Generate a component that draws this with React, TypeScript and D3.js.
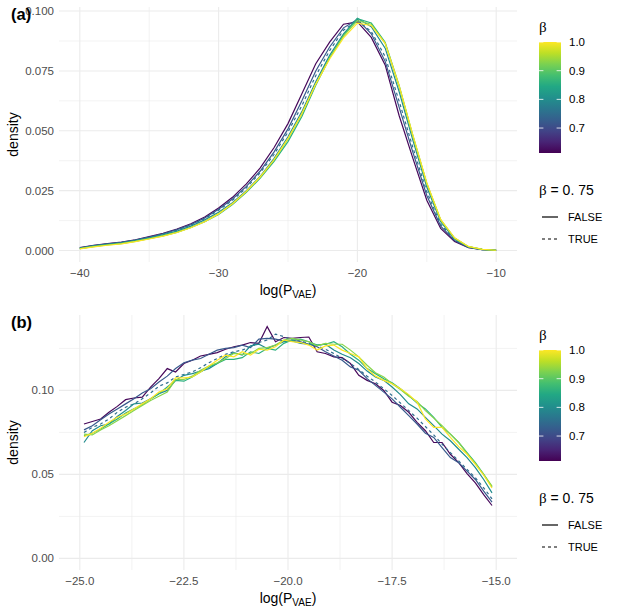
import * as d3 from 'd3';

// beta value of every curve, in drawing order; the 0.75 run is the dashed one
const betas = [0.62, 0.72, 0.75, 0.8, 0.86, 0.93, 1.0];
const dashed = [false, false, true, false, false, false, false];

// panel (a): whole range, bins of width 1
const xA = [-40, -39, -38, -37, -36, -35, -34, -33, -32, -31, -30, -29, -28, -27, -26, -25,
  -24, -23, -22, -21, -20, -19, -18, -17, -16, -15, -14, -13, -12, -11, -10];
const a062 = [0.0012, 0.0022, 0.0029, 0.0035, 0.0045, 0.0058, 0.0072, 0.0090, 0.0112, 0.0140, 0.0178, 0.0222, 0.0278, 0.0345, 0.0430, 0.0530,
  0.0655, 0.0780, 0.0870, 0.0945, 0.0955, 0.0890, 0.0775, 0.0565, 0.0385, 0.0210, 0.0092, 0.0038, 0.0012, 0.0004, 0.0001];
const a072 = [0.0011, 0.0021, 0.0028, 0.0034, 0.0044, 0.0056, 0.0070, 0.0087, 0.0108, 0.0136, 0.0172, 0.0215, 0.0268, 0.0332, 0.0412, 0.0508,
  0.0625, 0.0750, 0.0850, 0.0930, 0.0965, 0.0905, 0.0790, 0.0600, 0.0410, 0.0230, 0.0102, 0.0042, 0.0013, 0.0004, 0.0001];
const a075 = [0.0010, 0.0020, 0.0027, 0.0033, 0.0043, 0.0055, 0.0069, 0.0085, 0.0106, 0.0133, 0.0168, 0.0210, 0.0262, 0.0325, 0.0402, 0.0495,
  0.0605, 0.0730, 0.0835, 0.0920, 0.0960, 0.0915, 0.0810, 0.0625, 0.0430, 0.0245, 0.0110, 0.0045, 0.0014, 0.0004, 0.0001];
const a080 = [0.0009, 0.0019, 0.0026, 0.0032, 0.0041, 0.0053, 0.0066, 0.0081, 0.0102, 0.0128, 0.0160, 0.0200, 0.0250, 0.0310, 0.0385, 0.0475,
  0.0580, 0.0705, 0.0815, 0.0905, 0.0970, 0.0935, 0.0845, 0.0665, 0.0460, 0.0265, 0.0120, 0.0048, 0.0015, 0.0004, 0.0001];
const a086 = [0.0008, 0.0017, 0.0024, 0.0030, 0.0039, 0.0050, 0.0062, 0.0077, 0.0096, 0.0120, 0.0150, 0.0192, 0.0243, 0.0302, 0.0372, 0.0455,
  0.0560, 0.0690, 0.0805, 0.0900, 0.0968, 0.0950, 0.0870, 0.0690, 0.0480, 0.0280, 0.0128, 0.0052, 0.0016, 0.0005, 0.0001];
const a093 = [0.0008, 0.0016, 0.0023, 0.0029, 0.0038, 0.0049, 0.0061, 0.0076, 0.0096, 0.0121, 0.0154, 0.0195, 0.0246, 0.0306, 0.0378, 0.0465,
  0.0570, 0.0695, 0.0805, 0.0895, 0.0960, 0.0945, 0.0865, 0.0685, 0.0475, 0.0278, 0.0127, 0.0051, 0.0016, 0.0005, 0.0001];
const a100 = [0.0007, 0.0015, 0.0022, 0.0028, 0.0037, 0.0048, 0.0060, 0.0075, 0.0095, 0.0120, 0.0153, 0.0195, 0.0247, 0.0308, 0.0380, 0.0468,
  0.0572, 0.0695, 0.0800, 0.0888, 0.0950, 0.0940, 0.0865, 0.0690, 0.0482, 0.0283, 0.0130, 0.0053, 0.0017, 0.0005, 0.0001];

// panel (b): zoom on the bulk, bins of width 0.2
const xB = [-24.9, -24.7, -24.5, -24.3, -24.1, -23.9, -23.7, -23.5, -23.3, -23.1,
  -22.9, -22.7, -22.5, -22.3, -22.1, -21.9, -21.7, -21.5, -21.3, -21.1,
  -20.9, -20.7, -20.5, -20.3, -20.1, -19.9, -19.7, -19.5, -19.3, -19.1,
  -18.9, -18.7, -18.5, -18.3, -18.1, -17.9, -17.7, -17.5, -17.3, -17.1,
  -16.9, -16.7, -16.5, -16.3, -16.1, -15.9, -15.7, -15.5, -15.3, -15.1];
const b062 = [0.0800, 0.0815, 0.0830, 0.0870, 0.0905, 0.0945, 0.0955, 0.0960, 0.1020, 0.1070,
  0.1130, 0.1110, 0.1160, 0.1180, 0.1205, 0.1215, 0.1225, 0.1245, 0.1260, 0.1270,
  0.1285, 0.1280, 0.1380, 0.1290, 0.1315, 0.1310, 0.1315, 0.1318, 0.1230, 0.1220,
  0.1200, 0.1195, 0.1160, 0.1090, 0.1060, 0.1040, 0.1000, 0.0930, 0.0910, 0.0870,
  0.0810, 0.0760, 0.0690, 0.0690, 0.0620, 0.0570, 0.0505, 0.0450, 0.0380, 0.0315];
const b072 = [0.0765, 0.0790, 0.0825, 0.0860, 0.0890, 0.0920, 0.0950, 0.0985, 0.1010, 0.1050,
  0.1085, 0.1130, 0.1165, 0.1180, 0.1190, 0.1215, 0.1240, 0.1250, 0.1255, 0.1270,
  0.1255, 0.1305, 0.1310, 0.1305, 0.1295, 0.1300, 0.1290, 0.1275, 0.1260, 0.1230,
  0.1205, 0.1180, 0.1140, 0.1120, 0.1070, 0.1030, 0.0990, 0.0950, 0.0900, 0.0850,
  0.0800, 0.0745, 0.0720, 0.0660, 0.0600, 0.0570, 0.0520, 0.0470, 0.0400, 0.0335];
const b075 = [0.0750, 0.0780, 0.0800, 0.0830, 0.0870, 0.0900, 0.0920, 0.0950, 0.0985, 0.1025,
  0.1045, 0.1080, 0.1095, 0.1110, 0.1135, 0.1165, 0.1190, 0.1215, 0.1230, 0.1240,
  0.1260, 0.1285, 0.1300, 0.1335, 0.1320, 0.1300, 0.1295, 0.1280, 0.1265, 0.1245,
  0.1220, 0.1190, 0.1160, 0.1125, 0.1085, 0.1050, 0.1010, 0.0970, 0.0925, 0.0880,
  0.0835, 0.0785, 0.0735, 0.0680, 0.0630, 0.0580, 0.0530, 0.0480, 0.0420, 0.0355];
const b080 = [0.0690, 0.0760, 0.0790, 0.0800, 0.0845, 0.0880, 0.0920, 0.0925, 0.0950, 0.0980,
  0.1000, 0.1060, 0.1090, 0.1100, 0.1115, 0.1130, 0.1160, 0.1200, 0.1225, 0.1210,
  0.1265, 0.1275, 0.1250, 0.1270, 0.1290, 0.1295, 0.1280, 0.1275, 0.1270, 0.1275,
  0.1240, 0.1215, 0.1195, 0.1160, 0.1115, 0.1080, 0.1060, 0.1020, 0.0975, 0.0920,
  0.0890, 0.0840, 0.0790, 0.0740, 0.0700, 0.0650, 0.0600, 0.0540, 0.0470, 0.0390];
const b086 = [0.0730, 0.0745, 0.0770, 0.0800, 0.0830, 0.0865, 0.0890, 0.0915, 0.0950, 0.0980,
  0.1020, 0.1060, 0.1055, 0.1080, 0.1110, 0.1140, 0.1160, 0.1185, 0.1185, 0.1195,
  0.1230, 0.1220, 0.1250, 0.1240, 0.1280, 0.1300, 0.1305, 0.1290, 0.1270, 0.1275,
  0.1290, 0.1260, 0.1215, 0.1180, 0.1130, 0.1100, 0.1070, 0.1045, 0.1010, 0.0970,
  0.0925, 0.0890, 0.0840, 0.0780, 0.0740, 0.0690, 0.0630, 0.0570, 0.0500, 0.0425];
const b093 = [0.0740, 0.0735, 0.0765, 0.0790, 0.0820, 0.0850, 0.0880, 0.0910, 0.0940, 0.0965,
  0.0990, 0.1065, 0.1065, 0.1085, 0.1120, 0.1145, 0.1165, 0.1190, 0.1220, 0.1215,
  0.1220, 0.1250, 0.1255, 0.1270, 0.1300, 0.1310, 0.1300, 0.1290, 0.1265, 0.1280,
  0.1275, 0.1275, 0.1240, 0.1200, 0.1150, 0.1105, 0.1080, 0.1040, 0.1005, 0.0965,
  0.0935, 0.0880, 0.0835, 0.0790, 0.0740, 0.0690, 0.0625, 0.0565, 0.0500, 0.0430];
const b100 = [0.0725, 0.0745, 0.0775, 0.0810, 0.0840, 0.0860, 0.0890, 0.0920, 0.0950, 0.0990,
  0.1010, 0.1075, 0.1075, 0.1080, 0.1110, 0.1145, 0.1180, 0.1210, 0.1200, 0.1230,
  0.1210, 0.1245, 0.1240, 0.1260, 0.1300, 0.1290, 0.1285, 0.1270, 0.1240, 0.1265,
  0.1270, 0.1240, 0.1220, 0.1200, 0.1130, 0.1085, 0.1060, 0.1040, 0.1010, 0.0975,
  0.0930, 0.0830, 0.0780, 0.0780, 0.0720, 0.0665, 0.0620, 0.0560, 0.0495, 0.0419];

const seriesA = [a062, a072, a075, a080, a086, a093, a100];
const seriesB = [b062, b072, b075, b080, b086, b093, b100];

// tick labels
const xTicksA = [-40, -30, -20, -10];
const xMinorA = [-35, -25, -15];
const yTicksA = [0, 0.025, 0.05, 0.075, 0.1];
const yMinorA = [0.0125, 0.0375, 0.0625, 0.0875];
const xTicksB = [-25, -22.5, -20, -17.5, -15];
const xMinorB = [-23.75, -21.25, -18.75, -16.25];
const yTicksB = [0, 0.05, 0.1];
const yMinorB = [0.025, 0.075, 0.125];
const barTicks = [0.7, 0.8, 0.9, 1.0];
const betaRange = [0.613, 1.0];

const sans = '"Liberation Sans", Arial, sans-serif';
const serif = '"Liberation Serif", "DejaVu Serif", serif';
const grid = '#ebebeb';
const tickCol = '#4d4d4d';

const L = 59, R = 517;

const colour = (b: number) =>
  d3.interpolateViridis((b - betaRange[0]) / (betaRange[1] - betaRange[0]));

interface PanelProps {
  top: number;
  bottom: number;
  xDomain: [number, number];
  yDomain: [number, number];
  xs: number[];
  series: number[][];
  xTicks: number[];
  xMinor: number[];
  yTicks: number[];
  yMinor: number[];
  xFmt: (n: number) => string;
  yFmt: (n: number) => string;
  tag: string;
}

const Panel = (p: PanelProps) => {
  const x = d3.scaleLinear().domain(p.xDomain).range([L, R]);
  const y = d3.scaleLinear().domain(p.yDomain).range([p.bottom, p.top]);
  const line = d3.line<number>()
    .x((_, i) => x(p.xs[i]))
    .y(d => y(d));

  const bar = d3.scaleLinear().domain(betaRange).range([p.top + 146, p.top + 35]);
  const lx = 539;

  return (
    <g>
      {/* grid */}
      {p.xMinor.map(t => (
        <line key={'xm' + t} x1={x(t)} x2={x(t)} y1={p.top} y2={p.bottom} stroke={grid} strokeWidth={0.6} />
      ))}
      {p.yMinor.map(t => (
        <line key={'ym' + t} x1={L} x2={R} y1={y(t)} y2={y(t)} stroke={grid} strokeWidth={0.6} />
      ))}
      {p.xTicks.map(t => (
        <line key={'x' + t} x1={x(t)} x2={x(t)} y1={p.top} y2={p.bottom} stroke={grid} strokeWidth={1.1} />
      ))}
      {p.yTicks.map(t => (
        <line key={'y' + t} x1={L} x2={R} y1={y(t)} y2={y(t)} stroke={grid} strokeWidth={1.1} />
      ))}

      {/* curves */}
      {p.series.map((s, i) => (
        <path key={i} d={line(s) || ''} fill="none" stroke={colour(betas[i])}
          strokeWidth={1.2} strokeDasharray={dashed[i] ? '3,3' : undefined} />
      ))}

      {/* axis labels */}
      {p.xTicks.map(t => (
        <text key={'xl' + t} x={x(t)} y={p.bottom + 15} textAnchor="middle"
          fontFamily={sans} fontSize={11.5} fill={tickCol}>{p.xFmt(t)}</text>
      ))}
      {p.yTicks.map(t => (
        <text key={'yl' + t} x={54} y={y(t)} dy="0.35em" textAnchor="end"
          fontFamily={sans} fontSize={11.5} fill={tickCol}>{p.yFmt(t)}</text>
      ))}
      <text x={(L + R) / 2} y={p.bottom + 33} textAnchor="middle" fontFamily={sans} fontSize={14}>
        log(P<tspan fontSize={10} dy={3}>VAE</tspan><tspan dy={-3}>)</tspan>
      </text>
      <text transform={`translate(18,${(p.top + p.bottom) / 2}) rotate(-90)`} textAnchor="middle"
        fontFamily={sans} fontSize={14}>density</text>
      <text x={11} y={p.top + 13} fontFamily={sans} fontSize={16.5} fontWeight="bold">{p.tag}</text>

      {/* colour bar legend */}
      <text x={lx} y={p.top + 25} fontFamily={serif} fontSize={15}>β</text>
      <rect x={lx} y={bar(betaRange[1])} width={22} height={bar(betaRange[0]) - bar(betaRange[1])}
        fill="url(#viridisBar)" />
      {barTicks.map(t => (
        <g key={'bt' + t}>
          <line x1={lx} x2={lx + 4.4} y1={bar(t)} y2={bar(t)} stroke="white" strokeOpacity={0.8} />
          <line x1={lx + 17.6} x2={lx + 22} y1={bar(t)} y2={bar(t)} stroke="white" strokeOpacity={0.8} />
          <text x={lx + 30} y={bar(t)} dy="0.35em" fontFamily={sans} fontSize={11.5} fill="black">
            {d3.format('.1f')(t)}
          </text>
        </g>
      ))}

      {/* line type legend */}
      <text x={lx} y={p.top + 188} fontFamily={sans} fontSize={14}>
        <tspan fontFamily={serif} fontSize={15}>β</tspan> = 0. 75
      </text>
      {[false, true].map((flag, i) => (
        <g key={'lt' + i}>
          <line x1={lx + 3} x2={lx + 19} y1={p.top + 210 + i * 22} y2={p.top + 210 + i * 22}
            stroke="black" strokeWidth={1.2} strokeDasharray={flag ? '3,3' : undefined} />
          <text x={lx + 29} y={p.top + 210 + i * 22} dy="0.35em" fontFamily={sans} fontSize={11}>
            {flag ? 'TRUE' : 'FALSE'}
          </text>
        </g>
      ))}
    </g>
  );
};

export default function App() {
  const stops = d3.range(0, 1.0001, 0.1);
  return (
    <svg width={617} height={616} style={{ position: 'absolute', left: 0, top: 0, background: 'white' }}>
      <defs>
        <linearGradient id="viridisBar" x1="0" y1="1" x2="0" y2="0">
          {stops.map(s => (
            <stop key={s} offset={s} stopColor={d3.interpolateViridis(s)} />
          ))}
        </linearGradient>
      </defs>
      <Panel top={7} bottom={262} xDomain={[-41.5, -8.5]} yDomain={[-0.0048, 0.1017]}
        xs={xA} series={seriesA} xTicks={xTicksA} xMinor={xMinorA} yTicks={yTicksA} yMinor={yMinorA}
        xFmt={d3.format('d')} yFmt={d3.format('.3f')} tag="(a)" />
      <Panel top={315} bottom={570} xDomain={[-25.5, -14.5]} yDomain={[-0.0069, 0.1449]}
        xs={xB} series={seriesB} xTicks={xTicksB} xMinor={xMinorB} yTicks={yTicksB} yMinor={yMinorB}
        xFmt={d3.format('.1f')} yFmt={d3.format('.2f')} tag="(b)" />
    </svg>
  );
}
